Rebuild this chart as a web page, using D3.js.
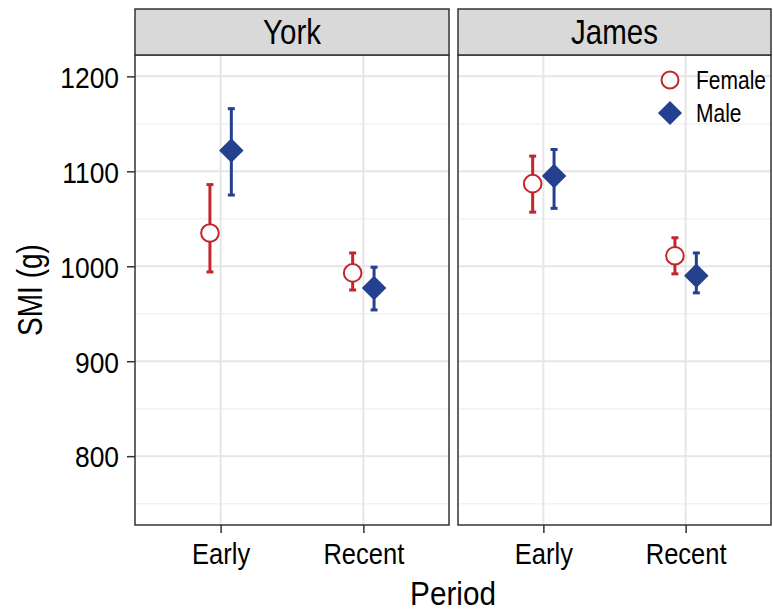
<!DOCTYPE html>
<html>
<head>
<meta charset="utf-8">
<script src="https://cdn.jsdelivr.net/npm/d3@7"></script>
<style>
  html, body { margin: 0; padding: 0; background: #fff; }
  svg text { font-family: "Liberation Sans", Arial, sans-serif; fill: #000; }
</style>
</head>
<body>
<svg id="chart" width="773" height="613"></svg>
<script>
// Facets, categories and series
const sites = ["York", "James"];
const periods = ["Early", "Recent"];
const sexes = ["Female", "Male"];

// Values per series, ordered York Early, York Recent, James Early, James Recent
const femaleMean  = [1035, 993, 1087, 1011];
const femaleLower = [994, 975, 1057, 992];
const femaleUpper = [1086, 1014, 1116, 1030];
const maleMean    = [1122, 977, 1095, 990];
const maleLower   = [1075, 954, 1061, 972];
const maleUpper   = [1166, 999, 1123, 1014];

// Axis ticks
const yMajorTicks = [800, 900, 1000, 1100, 1200];
const yMinorTicks = [750, 850, 950, 1050, 1150];
const yLimits = [750, 1200];

const colors = { Female: "#C1272D", Male: "#25408F" };

// Build row records from the series arrays
const rows = [];
sites.forEach((site, si) => {
  periods.forEach((period, pi) => {
    const k = si * 2 + pi;
    rows.push({ site, period, sex: "Female", mean: femaleMean[k], lo: femaleLower[k], hi: femaleUpper[k] });
    rows.push({ site, period, sex: "Male", mean: maleMean[k], lo: maleLower[k], hi: maleUpper[k] });
  });
});

const svg = d3.select("#chart");

// Condensed-looking text: regular face squeezed horizontally
function label(parent, x, y, str, size, anchor, sx, rot) {
  return parent.append("text")
    .attr("transform", `translate(${x},${y})${rot ? ` rotate(${rot})` : ""} scale(${sx},1)`)
    .attr("text-anchor", anchor)
    .attr("font-size", size)
    .text(str);
}
function squeeze(sel, sx) {
  sel.each(function () {
    const t = d3.select(this);
    const x = +t.attr("x") || 0, yy = +t.attr("y") || 0;
    t.attr("x", null).attr("y", null)
      .attr("transform", `translate(${x},${yy}) scale(${sx},1)`);
  });
}

const panelTop = 55, panelBottom = 525;
const stripTop = 9;
const panelX = { York: [135, 449], James: [458, 771] };

const span = yLimits[1] - yLimits[0];
const y = d3.scaleLinear()
  .domain([yLimits[0] - span * 0.05, yLimits[1] + span * 0.05])
  .range([panelBottom, panelTop]);

const dodge = d3.scalePoint().domain(sexes).range([-10.7, 10.7]);

sites.forEach(site => {
  const [x0, x1] = panelX[site];
  const x = d3.scalePoint().domain(periods).range([x0, x1]).padding(0.6);
  const g = svg.append("g");

  g.append("rect").attr("x", x0).attr("y", panelTop)
    .attr("width", x1 - x0).attr("height", panelBottom - panelTop)
    .attr("fill", "#fff");

  // minor grid
  g.selectAll(".ymin").data(yMinorTicks).join("line")
    .attr("x1", x0).attr("x2", x1)
    .attr("y1", d => y(d)).attr("y2", d => y(d))
    .attr("stroke", "#F2F2F2").attr("stroke-width", 1.5);
  // major grid
  g.selectAll(".ymaj").data(yMajorTicks).join("line")
    .attr("x1", x0).attr("x2", x1)
    .attr("y1", d => y(d)).attr("y2", d => y(d))
    .attr("stroke", "#E6E6E6").attr("stroke-width", 2);
  g.selectAll(".xmaj").data(periods).join("line")
    .attr("x1", d => x(d)).attr("x2", d => x(d))
    .attr("y1", panelTop).attr("y2", panelBottom)
    .attr("stroke", "#E6E6E6").attr("stroke-width", 2);

  // error bars and points
  const data = rows.filter(r => r.site === site);
  const px = d => x(d.period) + dodge(d.sex);

  const eb = g.selectAll(".eb").data(data).join("g")
    .attr("stroke", d => colors[d.sex]).attr("stroke-width", 3);
  eb.append("line")
    .attr("x1", px).attr("x2", px)
    .attr("y1", d => y(d.lo)).attr("y2", d => y(d.hi));
  eb.append("line")
    .attr("x1", d => px(d) - 3.5).attr("x2", d => px(d) + 3.5)
    .attr("y1", d => y(d.lo)).attr("y2", d => y(d.lo));
  eb.append("line")
    .attr("x1", d => px(d) - 3.5).attr("x2", d => px(d) + 3.5)
    .attr("y1", d => y(d.hi)).attr("y2", d => y(d.hi));

  data.forEach(d => {
    if (d.sex === "Female") {
      g.append("circle").attr("cx", px(d)).attr("cy", y(d.mean)).attr("r", 8.8)
        .attr("fill", "#fff").attr("stroke", colors.Female).attr("stroke-width", 2);
    } else {
      g.append("path")
        .attr("d", d3.symbol(d3.symbolSquare, 300)())
        .attr("transform", `translate(${px(d)},${y(d.mean)}) rotate(45)`)
        .attr("fill", colors.Male);
    }
  });

  // panel border
  g.append("rect").attr("x", x0).attr("y", panelTop)
    .attr("width", x1 - x0).attr("height", panelBottom - panelTop)
    .attr("fill", "none").attr("stroke", "#333").attr("stroke-width", 1.5);

  // strip
  g.append("rect").attr("x", x0).attr("y", stripTop)
    .attr("width", x1 - x0).attr("height", panelTop - stripTop)
    .attr("fill", "#D9D9D9").attr("stroke", "#333").attr("stroke-width", 1.5);
  label(g, (x0 + x1) / 2, 44, site, 36, "middle", 0.82);

  // x axis
  const xAxis = g.append("g").attr("transform", `translate(0,${panelBottom})`)
    .call(d3.axisBottom(x).tickSize(8).tickPadding(6));
  xAxis.select(".domain").remove();
  xAxis.selectAll(".tick line").attr("stroke", "#333").attr("stroke-width", 1.5);
  xAxis.selectAll(".tick text").attr("font-size", 29).attr("fill", "#000")
    .attr("dy", null).attr("y", 39);
  squeeze(xAxis.selectAll(".tick text"), 0.88);
});

// y axis
const yAxis = svg.append("g").attr("transform", `translate(${panelX.York[0]},0)`)
  .call(d3.axisLeft(y).tickValues(yMajorTicks).tickFormat(d3.format("d")).tickSize(8).tickPadding(8));
yAxis.select(".domain").remove();
yAxis.selectAll(".tick line").attr("stroke", "#333").attr("stroke-width", 1.5);
yAxis.selectAll(".tick text").attr("font-size", 30).attr("fill", "#000").attr("dy", "0.36em");
squeeze(yAxis.selectAll(".tick text"), 0.88);

// axis titles
label(svg, 453, 605, "Period", 33, "middle", 0.9);
label(svg, 42, 290, "SMI (g)", 35, "middle", 0.8, -90);

// legend
const legend = svg.append("g").attr("transform", "translate(670,0)");
legend.append("circle").attr("cx", 0).attr("cy", 80).attr("r", 8.5)
  .attr("fill", "#fff").attr("stroke", colors.Female).attr("stroke-width", 2);
legend.append("path")
  .attr("d", d3.symbol(d3.symbolSquare, 290)())
  .attr("transform", "translate(0,113) rotate(45)")
  .attr("fill", colors.Male);
label(legend, 26, 89, "Female", 25, "start", 0.84);
label(legend, 26, 122, "Male", 25, "start", 0.84);
</script>
</body>
</html>
